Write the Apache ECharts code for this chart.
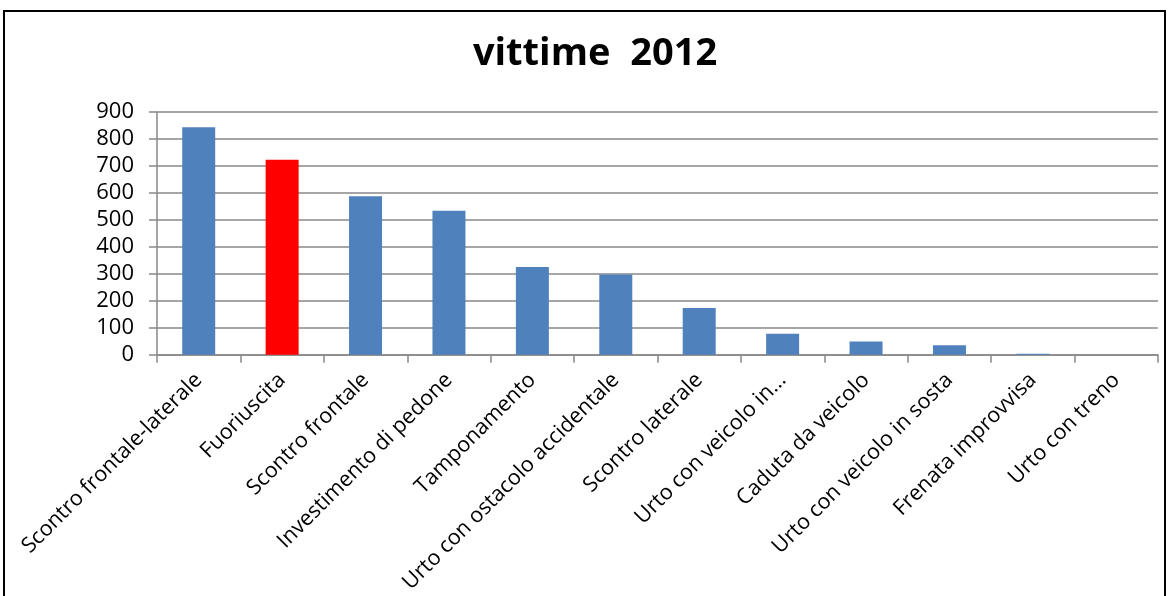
<!DOCTYPE html>
<html>
<head>
<meta charset="utf-8">
<script src="https://cdn.jsdelivr.net/npm/echarts@6/dist/echarts.min.js"></script>
<style>
html,body{margin:0;padding:0;background:#fff;}
#frame{position:absolute;left:3px;top:10px;width:1163px;height:600px;border:2px solid #000;box-sizing:border-box;}
#chart{position:absolute;left:0;top:0;width:1172px;height:596px;}
</style>
</head>
<body>
<div id="frame"></div>
<div id="chart"></div>
<script>
const categories = ["Scontro frontale-laterale","Fuoriuscita","Scontro frontale","Investimento di pedone","Tamponamento","Urto con ostacolo accidentale","Scontro laterale","Urto con veicolo in...","Caduta da veicolo","Urto con veicolo in sosta","Frenata improvvisa","Urto con treno"];
const values = [843, 723, 588, 534, 325, 297, 173, 78, 49, 35, 4, 0];
const highlighted = ["Fuoriuscita"];
const yTicks = [0,100,200,300,400,500,600,700,800,900];
const titleText = "vittime  2012";

const chart = echarts.init(document.getElementById('chart'));
chart.setOption({
  animation:false,
  title:{text:titleText,left:590,top:30,textAlign:'center',textStyle:{fontFamily:'Open Sans',fontWeight:'bold',fontSize:38,color:'#000'}},
  grid:{left:157,right:14,top:112,bottom:241},
  xAxis:{type:'category',data:categories,
    axisLine:{lineStyle:{color:'#888',width:1.5}},
    axisTick:{show:true,alignWithLabel:false,length:8,lineStyle:{color:'#888',width:1.5}},
    axisLabel:{rotate:45,interval:0,margin:22,fontFamily:'Open Sans',fontSize:21.5,color:'#000'}},
  yAxis:{type:'value',min:yTicks[0],max:yTicks[yTicks.length-1],interval:100,
    axisLine:{show:true,lineStyle:{color:'#888',width:1.5}},
    axisTick:{show:true,length:8,lineStyle:{color:'#888',width:1.5}},
    splitLine:{lineStyle:{color:'#888',width:1.5}},
    axisLabel:{fontFamily:'Open Sans',fontSize:22,color:'#000',margin:23}},
  series:[{type:'bar',barWidth:33,
    data:values.map((v,i)=>({value:v,itemStyle:{color:highlighted.includes(categories[i])?'#FF0000':'#4F81BD'}}))}]
});
</script>
</body>
</html>
